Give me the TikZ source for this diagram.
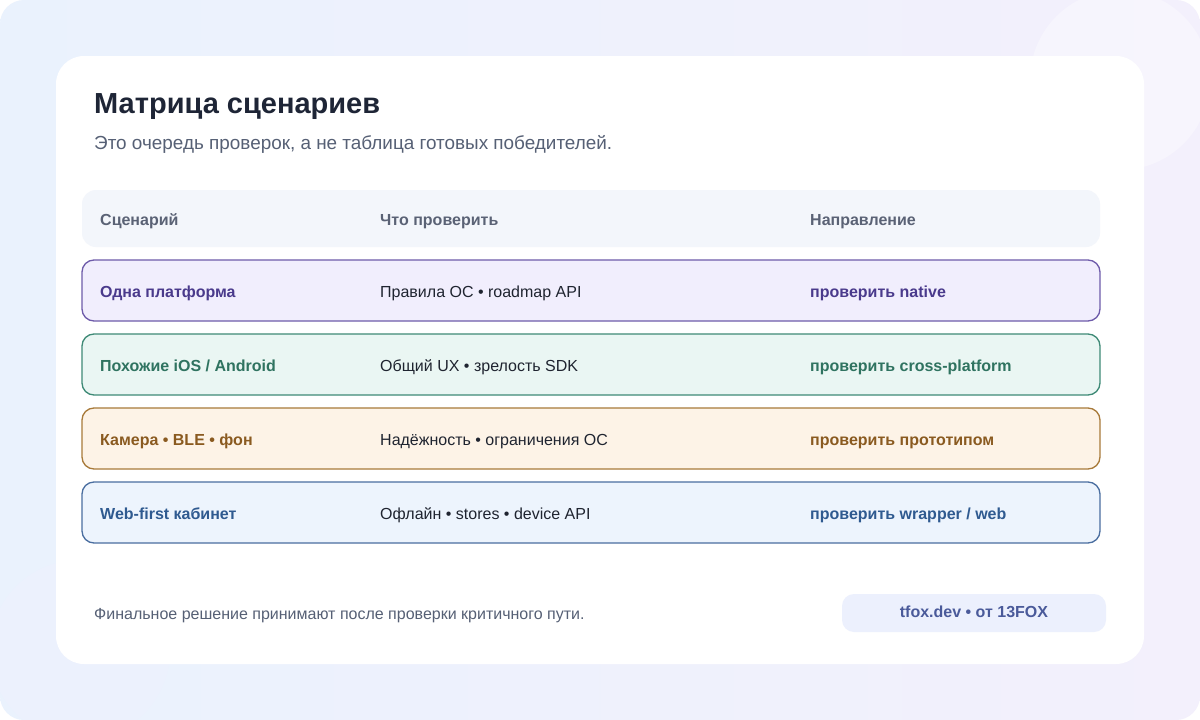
\documentclass[tikz,border=0pt]{standalone}
\usepackage{fontspec}
\setmainfont{Liberation Sans}
\usetikzlibrary{positioning}
\definecolor{bgA}{HTML}{EAF2FD}
\definecolor{bgB}{HTML}{F3F0FC}
\definecolor{headfill}{HTML}{F3F6FB}
\definecolor{headtext}{HTML}{5A6275}
\definecolor{titletext}{HTML}{1E2536}
\definecolor{subtext}{HTML}{566075}
\definecolor{bodytext}{HTML}{1F2430}
\definecolor{purpfill}{HTML}{F1EEFD}\definecolor{purpline}{HTML}{6E5BAA}\definecolor{purptext}{HTML}{4A3A8C}
\definecolor{greenfill}{HTML}{EAF6F3}\definecolor{greenline}{HTML}{3E8A76}\definecolor{greentext}{HTML}{2F7360}
\definecolor{orfill}{HTML}{FDF3E7}\definecolor{orline}{HTML}{A87A3A}\definecolor{ortext}{HTML}{8A5A20}
\definecolor{bluefill}{HTML}{EDF4FD}\definecolor{blueline}{HTML}{4A6EA0}\definecolor{bluetext}{HTML}{2F5A90}
\definecolor{badgefill}{HTML}{ECF0FD}\definecolor{badgetext}{HTML}{4A5A9A}
\begin{document}
\begin{tikzpicture}[
        x=1pt, y=-1pt,
        txt/.style={anchor=base west, inner sep=0pt, font=\fontsize{16}{19}\selectfont},
        bold/.style={txt, font=\fontsize{16}{19}\selectfont\bfseries},
        head/.style={bold, text=headtext},
        row/.style={rounded corners=12pt, line width=1.3pt},
        ]
    \useasboundingbox (0,0) rectangle (1200,720);
    % background
    \fill[white] (0,0) rectangle (1200,720);
    \shade[left color=bgA, right color=bgB, rounded corners=24pt] (0,0) rectangle (1200,720);
    \fill[white, opacity=0.35] (1120,80) circle (90);
    \fill[bgA!70!bgB, opacity=0.8] (80,650) circle (90);
    % card
    \fill[white, rounded corners=28pt] (56,56) rectangle (1144,664);
    \node[txt, font=\fontsize{29}{32}\selectfont\bfseries, text=titletext] (title) at (94,113) {Матрица сценариев};
    \node[txt, font=\fontsize{18.9}{22}\selectfont, text=subtext] (sub) at (94,149) {Это очередь проверок, а не таблица готовых победителей.};
    % header
    \fill[headfill, rounded corners=14pt] (82,190) rectangle (1100,247);
    \node[head] (h1) at (100,225) {Сценарий};
    \node[head] (h2) at (380,225) {Что проверить};
    \node[head] (h3) at (810,225) {Направление};
    % rows
    \foreach \y/\c/\a/\b/\d in {
        260/purp/{Одна платформа}/{Правила ОС • roadmap API}/{проверить native},
        334/green/{Похожие iOS / Android}/{Общий UX • зрелость SDK}/{проверить cross-platform},
        408/or/{Камера • BLE • фон}/{Надёжность • ограничения ОС}/{проверить прототипом},
        482/blue/{Web-first кабинет}/{Офлайн • stores • device API}/{проверить wrapper / web}} {
        \draw[row, fill=\c fill, draw=\c line] (82,\y) rectangle (1100,\y+61);
        \node[bold, text=\c text] at (100,\y+37) {\a};
        \node[txt, text=bodytext] at (380,\y+37) {\b};
        \node[bold, text=\c text] at (810,\y+37) {\d};
    }
    % footer
    \node[txt, font=\fontsize{16}{18}\selectfont, text=subtext] (foot) at (94,619) {Финальное решение принимают после проверки критичного пути.};
    \fill[badgefill, rounded corners=12pt] (842,594) rectangle (1106,632);
    \node[inner sep=0pt, font=\fontsize{16}{19}\selectfont\bfseries, text=badgetext] (badge) at (974,612) {tfox.dev • от 13FOX};
\end{tikzpicture}
\end{document}
